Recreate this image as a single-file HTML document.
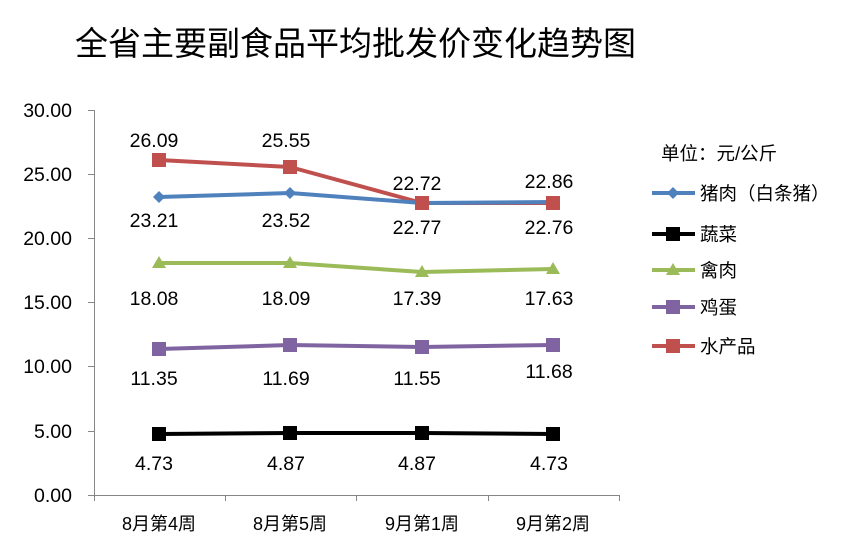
<!DOCTYPE html>
<html><head><meta charset="utf-8"><style>body{margin:0;background:#fff}svg text{font-family:"Liberation Sans","Noto Sans CJK SC",sans-serif}</style></head><body>
<svg width="857" height="555" xmlns="http://www.w3.org/2000/svg">
<rect width="857" height="555" fill="#fff"/>
<text x="75" y="55" font-size="33" fill="#000" font-family="'Noto Sans CJK SC',sans-serif">全省主要副食品平均批发价变化趋势图</text>
<g stroke="#868686" stroke-width="1">
<line x1="94.5" y1="110" x2="94.5" y2="495"/>
<line x1="94" y1="495.5" x2="620" y2="495.5"/>
<line x1="88" y1="110.5" x2="94" y2="110.5"/><line x1="88" y1="174.5" x2="94" y2="174.5"/><line x1="88" y1="238.5" x2="94" y2="238.5"/><line x1="88" y1="302.5" x2="94" y2="302.5"/><line x1="88" y1="366.5" x2="94" y2="366.5"/><line x1="88" y1="431.5" x2="94" y2="431.5"/><line x1="88" y1="495.5" x2="94" y2="495.5"/>
<line x1="225.5" y1="495" x2="225.5" y2="501"/><line x1="356.5" y1="495" x2="356.5" y2="501"/><line x1="488.5" y1="495" x2="488.5" y2="501"/><line x1="619.5" y1="495" x2="619.5" y2="501"/><line x1="94.5" y1="495" x2="94.5" y2="501"/>
</g>
<g font-size="19.5" text-anchor="end" fill="#000">
<text x="72" y="117">30.00</text><text x="72" y="181">25.00</text><text x="72" y="245">20.00</text><text x="72" y="309">15.00</text><text x="72" y="373">10.00</text><text x="72" y="438">5.00</text><text x="72" y="502">0.00</text>
</g>
<g font-size="18" text-anchor="middle" font-family="'Noto Sans CJK SC',sans-serif">
<text x="159" y="530">8月第4周</text><text x="290" y="530">8月第5周</text><text x="422" y="530">9月第1周</text><text x="553" y="530">9月第2周</text>
</g>
<g stroke-width="4" fill="none" stroke-linejoin="round">
<polyline stroke="#C0504D" points="159,160 290,167 422,203 553,203"/>
<polyline stroke="#4F81BD" points="159,197 290,193 422,203 553,202"/>
<polyline stroke="#9BBB59" points="159,263 290,263 422,272 553,269"/>
<polyline stroke="#8064A2" points="159,349 290,345 422,347 553,345"/>
<polyline stroke="#000" points="159,434 290,433 422,433 553,434"/>
</g>
<g fill="#4F81BD"><path d="M159 191l6 6-6 6-6-6z"/><path d="M290 187l6 6-6 6-6-6z"/><path d="M422 197l6 6-6 6-6-6z"/><path d="M553 196l6 6-6 6-6-6z"/></g>
<g fill="#C0504D"><rect x="152" y="153" width="14" height="14"/><rect x="283" y="160" width="14" height="14"/><rect x="415" y="196" width="14" height="14"/><rect x="546" y="196" width="14" height="14"/></g>
<g fill="#9BBB59"><path d="M159 256l7 12h-14z"/><path d="M290 256l7 12h-14z"/><path d="M422 265l7 12h-14z"/><path d="M553 262l7 12h-14z"/></g>
<g fill="#8064A2"><rect x="152" y="342" width="14" height="14"/><rect x="283" y="338" width="14" height="14"/><rect x="415" y="340" width="14" height="14"/><rect x="546" y="338" width="14" height="14"/></g>
<g fill="#000"><rect x="152" y="427" width="14" height="14"/><rect x="283" y="426" width="14" height="14"/><rect x="415" y="426" width="14" height="14"/><rect x="546" y="427" width="14" height="14"/></g>
<g font-size="19.5" text-anchor="middle" fill="#000">
<text x="154" y="147">26.09</text><text x="286" y="147">25.55</text><text x="417" y="190">22.72</text><text x="549" y="188">22.86</text>
<text x="154" y="227">23.21</text><text x="286" y="227">23.52</text><text x="417" y="234">22.77</text><text x="549" y="234">22.76</text>
<text x="154" y="305">18.08</text><text x="286" y="305">18.09</text><text x="417" y="305">17.39</text><text x="549" y="305">17.63</text>
<text x="154" y="385">11.35</text><text x="286" y="385">11.69</text><text x="417" y="385">11.55</text><text x="549" y="378">11.68</text>
<text x="154" y="470">4.73</text><text x="286" y="470">4.87</text><text x="417" y="470">4.87</text><text x="549" y="470">4.73</text>
</g>
<g font-size="18.5" font-family="'Noto Sans CJK SC',sans-serif">
<text x="661" y="160">单位：元/公斤</text>
<text x="700" y="200">猪肉（白条猪）</text><text x="700" y="241">蔬菜</text><text x="700" y="277">禽肉</text><text x="700" y="314">鸡蛋</text><text x="700" y="353">水产品</text>
</g>
<g stroke-width="4"><line x1="652" y1="193" x2="695" y2="193" stroke="#4F81BD"/><line x1="652" y1="234" x2="695" y2="234" stroke="#000"/><line x1="652" y1="270" x2="695" y2="270" stroke="#9BBB59"/><line x1="652" y1="307" x2="695" y2="307" stroke="#8064A2"/><line x1="652" y1="346" x2="695" y2="346" stroke="#C0504D"/></g>
<path d="M673 187l6 6-6 6-6-6z" fill="#4F81BD"/><rect x="666" y="227" width="14" height="14"/><path d="M673 263l7 12h-14z" fill="#9BBB59"/><rect x="666" y="300" width="14" height="14" fill="#8064A2"/><rect x="666" y="339" width="14" height="14" fill="#C0504D"/>
</svg>
</body></html>
